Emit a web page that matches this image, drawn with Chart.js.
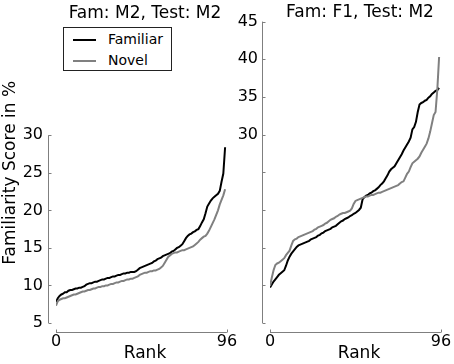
<!DOCTYPE html>
<html>
<head>
<meta charset="utf-8">
<script src="https://cdn.jsdelivr.net/npm/chart.js@4.4.1/dist/chart.umd.min.js"></script>
<style>
  html, body { margin: 0; padding: 0; background: #fff; overflow: hidden; }
  #wrap { position: relative; width: 454px; height: 364px; overflow: hidden; font-family: "DejaVu Sans", sans-serif; }
  #wrap canvas { position: absolute; top: 0; }
  #left { left: 0; }
  #right { left: 232px; }
  .legend { position: absolute; left: 63px; top: 27px; width: 107px; height: 42px; border: 1px solid #222; background: #fff; font-size: 14px; }
  .legend .row { position: absolute; left: 9px; height: 20px; line-height: 20px; }
  .legend .sample { display: inline-block; width: 23px; height: 2px; vertical-align: middle; margin-right: 12px; }
</style>
</head>
<body>
<div id="wrap">
  <canvas id="left" width="290" height="364"></canvas>
  <canvas id="right" width="256" height="364"></canvas>
  <div class="legend" id="legend"></div>
</div>
<script>
// rank axis
const ranks = Array.from({ length: 96 }, (_, i) => i);
const rankTicks = [0, 96];
const scoreTicks = [5, 10, 15, 20, 25, 30, 35, 40, 45];
const seriesNames = ['Familiar', 'Novel'];
const seriesColors = ['#000000', '#808080'];

// Fam: M2, Test: M2
const m2Familiar = [
  7.8, 8.3, 8.6, 8.8, 8.9, 9.1, 9.1, 9.3, 9.4, 9.4, 9.5, 9.6, 9.6, 9.7, 9.7, 9.8,
  9.9, 10.1, 10.2, 10.3, 10.3, 10.4, 10.5, 10.5, 10.6, 10.7, 10.8, 10.8, 10.9, 11.0, 11.0, 11.1,
  11.2, 11.2, 11.3, 11.4, 11.4, 11.5, 11.6, 11.6, 11.7, 11.7, 11.8, 11.8, 11.8, 11.9, 12.1, 12.3,
  12.4, 12.5, 12.6, 12.7, 12.8, 12.9, 13.0, 13.2, 13.3, 13.5, 13.6, 13.7, 13.9, 14.0, 14.1, 14.2,
  14.3, 14.5, 14.6, 14.8, 15.0, 15.1, 15.3, 15.5, 15.9, 16.3, 16.6, 16.8, 16.9, 17.1, 17.2, 17.4,
  17.5, 17.9, 18.4, 18.8, 19.6, 20.5, 20.9, 21.3, 21.6, 21.8, 22.0, 22.2, 22.6, 23.8, 24.9, 28.4
];
const m2Novel = [
  7.3, 7.9, 8.1, 8.2, 8.3, 8.3, 8.4, 8.5, 8.6, 8.7, 8.8, 8.8, 8.9, 9.0, 9.1, 9.2,
  9.2, 9.3, 9.4, 9.4, 9.5, 9.6, 9.6, 9.7, 9.8, 9.8, 9.9, 9.9, 10.0, 10.0, 10.1, 10.2,
  10.2, 10.3, 10.4, 10.4, 10.5, 10.6, 10.6, 10.7, 10.8, 10.8, 10.9, 10.9, 11.0, 11.1, 11.2, 11.4,
  11.5, 11.6, 11.7, 11.7, 11.8, 11.9, 11.9, 12.0, 12.0, 12.1, 12.2, 12.4, 12.6, 13.0, 13.4, 13.8,
  14.0, 14.2, 14.3, 14.4, 14.4, 14.5, 14.6, 14.7, 14.7, 14.8, 14.9, 15.0, 15.1, 15.2, 15.4, 15.6,
  15.8, 16.1, 16.3, 16.5, 16.6, 16.9, 17.3, 17.8, 18.3, 18.8, 19.4, 20.0, 20.8, 21.4, 22.0, 22.8
];

// Fam: F1, Test: M2
const f1Familiar = [
  9.7, 10.1, 10.5, 10.8, 11.1, 11.4, 11.6, 11.8, 12.0, 12.6, 13.3, 13.8, 14.2, 14.5, 14.8, 15.1,
  15.3, 15.4, 15.5, 15.6, 15.7, 15.8, 15.9, 16.1, 16.2, 16.3, 16.4, 16.6, 16.7, 16.9, 17.0, 17.2,
  17.3, 17.4, 17.5, 17.7, 17.8, 17.9, 18.1, 18.3, 18.5, 18.6, 18.8, 18.9, 19.0, 19.2, 19.3, 19.5,
  19.6, 19.8, 20.0, 20.3, 21.4, 21.7, 21.9, 22.0, 22.2, 22.3, 22.5, 22.6, 22.8, 23.0, 23.3, 23.5,
  23.8, 24.2, 24.6, 25.1, 25.4, 25.6, 25.8, 26.2, 26.6, 27.0, 27.4, 27.9, 28.3, 28.7, 29.1, 29.6,
  30.7, 31.0, 31.7, 33.0, 34.0, 34.2, 34.3, 34.5, 34.6, 34.9, 35.1, 35.4, 35.6, 35.8, 35.9, 36.2
];
const f1Novel = [
  9.9, 11.0, 12.0, 12.7, 12.9, 13.0, 13.2, 13.4, 13.6, 14.0, 14.3, 14.6, 15.3, 15.9, 16.1, 16.2,
  16.4, 16.5, 16.6, 16.7, 16.8, 16.9, 17.0, 17.1, 17.2, 17.4, 17.5, 17.7, 17.8, 17.9, 18.0, 18.2,
  18.3, 18.5, 18.7, 18.8, 18.9, 19.1, 19.2, 19.4, 19.5, 19.6, 19.6, 19.7, 19.8, 19.9, 20.2, 20.8,
  21.2, 21.3, 21.4, 21.5, 21.6, 21.7, 21.8, 21.8, 21.9, 22.0, 22.0, 22.1, 22.2, 22.3, 22.3, 22.4,
  22.5, 22.6, 22.7, 22.8, 22.9, 23.0, 23.1, 23.2, 23.3, 23.5, 23.7, 23.8, 24.3, 24.8, 25.1, 25.7,
  26.2, 26.4, 26.6, 26.8, 27.1, 27.6, 28.0, 28.4, 28.8, 29.5, 30.4, 31.5, 32.6, 33.0, 36.0, 40.3
];

const FONT = 'DejaVu Sans';
const SPINE = '#7f7f7f';

// matplotlib-style offset spines, trimmed, with inward ticks
const spines = {
  id: 'spines',
  afterDraw(chart, args, opts) {
    const { ctx, chartArea, scales: { x, y } } = chart;
    ctx.save();
    ctx.strokeStyle = SPINE;
    ctx.lineWidth = 1;
    const sx = Math.round(chartArea.left - 8) + 0.5;
    const yTop = y.getPixelForValue(opts.yMax);
    const yBot = y.getPixelForValue(y.min);
    ctx.beginPath();
    ctx.moveTo(sx, yBot);
    ctx.lineTo(sx, yTop);
    y.ticks.forEach(t => {
      if (t.value > opts.yMax) return;
      const py = Math.round(y.getPixelForValue(t.value)) + 0.5;
      ctx.moveTo(sx, py);
      ctx.lineTo(sx + 3, py);
    });
    const sy = Math.round(chartArea.bottom + 9) + 0.5;
    ctx.moveTo(x.getPixelForValue(rankTicks[0]), sy);
    ctx.lineTo(x.getPixelForValue(rankTicks[rankTicks.length - 1]), sy);
    x.ticks.forEach(t => {
      const px = Math.round(x.getPixelForValue(t.value)) + 0.5;
      ctx.moveTo(px, sy);
      ctx.lineTo(px, sy - 3);
    });
    ctx.stroke();
    ctx.restore();
  }
};

function makePanel(id, title, famData, novData, yShown, yMax, yWidth, rightWidth, labelPad, yTitle) {
  new Chart(document.getElementById(id), {
    type: 'line',
    data: {
      labels: ranks,
      datasets: [famData, novData].map((d, i) => ({
        label: seriesNames[i],
        data: d.map((v, k) => ({ x: ranks[k], y: v })),
        borderColor: seriesColors[i],
        borderWidth: 2,
        pointRadius: 0,
        tension: 0,
        fill: false
      })).reverse()
    },
    options: {
      responsive: false,
      animation: false,
      layout: { padding: 0, autoPadding: false },
      scales: {
        x: {
          type: 'linear',
          min: 0, max: 100,
          grid: { display: false, drawTicks: false, tickLength: 0 },
          border: { display: false },
          afterBuildTicks: s => { s.ticks = rankTicks.map(v => ({ value: v })); },
          afterFit: s => { s.height = 41; },
          ticks: { padding: 9, color: '#000', font: { family: FONT, size: 16 }, maxRotation: 0, autoSkip: false },
          title: { display: true, text: 'Rank', color: '#000', font: { family: FONT, size: 17 }, padding: 0 }
        },
        y: {
          type: 'linear',
          min: 5, max: 45,
          grid: { display: false, drawTicks: false, tickLength: 0 },
          border: { display: false },
          afterBuildTicks: s => { s.ticks = scoreTicks.map(v => ({ value: v })); },
          afterFit: s => { s.width = yWidth; },
          ticks: {
            padding: labelPad, color: '#000', font: { family: FONT, size: 16 },
            callback: v => (yShown(v) ? String(v) : '')
          },
          title: { display: !!yTitle, text: yTitle || '', color: '#000', font: { family: FONT, size: 17 }, padding: 0 }
        },
        // empty right-hand slot so the panel title centres over the full axes box
        pad: {
          type: 'linear', position: 'right', min: 0, max: 1,
          grid: { display: false, drawTicks: false, tickLength: 0 },
          border: { display: false },
          ticks: { display: false },
          afterFit: s => { s.width = rightWidth; }
        }
      },
      plugins: {
        legend: { display: false },
        tooltip: { enabled: false },
        title: { display: true, text: title, color: '#000', font: { family: FONT, size: 17, weight: 'normal', lineHeight: 1.12 }, padding: 0 },
        spines: { yMax }
      }
    },
    plugins: [spines]
  });
}

makePanel('left', 'Fam: M2, Test: M2', m2Familiar, m2Novel, v => v <= 30, 30, 56, 56, 13, 'Familiarity Score in %');
makePanel('right', 'Fam: F1, Test: M2', f1Familiar, f1Novel, v => v >= 30, 45, 38, 40, 12, '');

// legend box
const legend = document.getElementById('legend');
seriesNames.forEach((name, i) => {
  const row = document.createElement('div');
  row.className = 'row';
  row.style.top = (i * 21 + 1) + 'px';
  const sample = document.createElement('span');
  sample.className = 'sample';
  sample.style.background = seriesColors[i];
  row.appendChild(sample);
  row.appendChild(document.createTextNode(name));
  legend.appendChild(row);
});
</script>
</body>
</html>
